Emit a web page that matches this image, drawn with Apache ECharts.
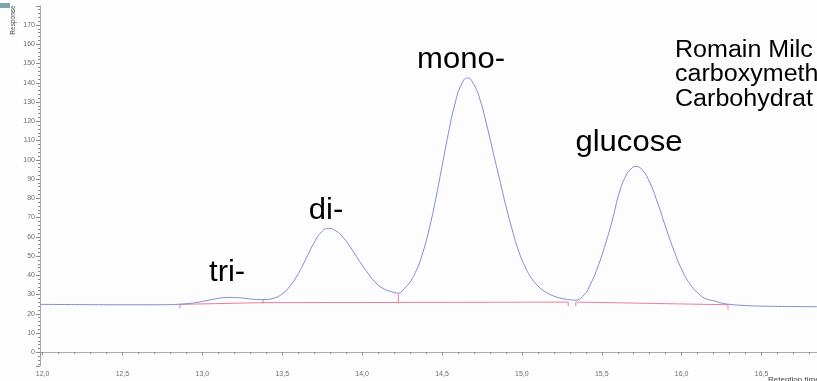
<!DOCTYPE html>
<html>
<head>
<meta charset="utf-8">
<script src="https://cdn.jsdelivr.net/npm/echarts@6/dist/echarts.min.js"></script>
<style>
  html, body { margin: 0; padding: 0; background: #fdfdfd; }
  #chart { width: 817px; height: 381px; }
</style>
</head>
<body>
<div id="chart"></div>
<script>
// Detector trace: retention time (min) and response
const retentionTime = [
  11.984, 12.2, 12.5, 12.7, 12.8, 12.86, 12.92, 12.98, 13.04, 13.10, 13.16, 13.22, 13.28, 13.33, 13.38,
  13.45, 13.50, 13.55, 13.60, 13.65, 13.70, 13.75, 13.79, 13.83, 13.88, 13.93, 13.98, 14.03, 14.08, 14.13, 14.18,
  14.227, 14.26, 14.30, 14.34, 14.38, 14.42, 14.46, 14.50, 14.54, 14.58, 14.62, 14.66,
  14.70, 14.74, 14.78, 14.82, 14.86, 14.90, 14.94, 14.98, 15.02, 15.06, 15.10, 15.15, 15.20, 15.25, 15.30,
  15.33, 15.38, 15.43, 15.48, 15.53, 15.57, 15.61, 15.65, 15.69, 15.715,
  15.75, 15.80, 15.85, 15.90, 15.95, 16.00, 16.05, 16.10, 16.15, 16.20, 16.25, 16.30, 16.40, 16.50, 16.65, 16.847
];
const response = [
  24.9, 24.8, 24.7, 24.7, 24.8, 25.0, 25.4, 26.1, 27.1, 28.0, 28.5, 28.4, 27.9, 27.5, 27.4,
  28.2, 30.4, 34.5, 40.8, 48.8, 57.0, 62.8, 64.4, 63.4, 59.8, 54.2, 47.8, 41.8, 36.6, 33.2, 31.6,
  30.7, 32.8, 36.5, 42.7, 51.8, 64.1, 79.4, 96.5, 113.8, 128.7, 138.9, 142.5,
  139.0, 130.7, 118.0, 104.0, 90.0, 76.0, 63.5, 52.5, 44.5, 38.5, 34.5, 31.2, 29.2, 28.0, 27.3,
  27.1, 29.0, 35.5, 45.5, 58.2, 70.0, 83.0, 91.5, 95.8, 96.5,
  95.1, 88.3, 77.5, 65.0, 53.2, 43.1, 35.7, 30.9, 27.9, 26.8, 25.6, 24.9, 24.3, 24.0, 23.8, 23.7
];

// Integration baseline and peak start/end markers (null breaks the line)
const baselineTime = [
  12.86, 13.38, null,
  13.38, 14.227, null,
  14.227, 15.29, null,
  15.337, 16.29, null,
  12.86, 12.86, null,
  13.38, 13.38, null,
  14.227, 14.227, null,
  15.29, 15.29, null,
  15.337, 15.337, null,
  16.29, 16.29
];
const baselineResp = [
  24.9, 25.8, null,
  25.8, 25.9, null,
  25.9, 26.1, null,
  26.1, 24.7, null,
  24.9, 22.9, null,
  27.6, 25.3, null,
  30.2, 25.4, null,
  26.1, 24.1, null,
  26.1, 24.1, null,
  24.7, 22.3
];

// Peak names and where they sit (time, response)
const peakNames = ['tri-', 'di-', 'mono-', 'glucose'];
const peakLabelTime = [13.155, 13.774, 14.619, 15.670];
const peakLabelResp = [33.9, 66.1, 144.5, 101.4];

const noteLines = ['Romain Milc', 'carboxymeth', 'Carbohydrat'];

const xMin = 11.984, xMax = 16.847, xStep = 0.5;
const yMin = -7, yMax = 180, yStep = 10;

const traceData = retentionTime.map((t, i) => [t, response[i]]);
const baselineData = baselineTime.map((t, i) =>
  (t === null || baselineResp[i] === null) ? [NaN, NaN] : [t, baselineResp[i]]);

const FONT = '"Liberation Sans", Arial, sans-serif';
const axisGray = '#a9a9a9';
const labelGray = '#6e6e6e';

const chart = echarts.init(document.getElementById('chart'), null, { renderer: 'canvas' });

chart.setOption({
  animation: false,
  backgroundColor: '#fdfdfd',
  grid: { left: 40, right: 0, top: 5.75, bottom: 15.2, containLabel: false, outerBoundsMode: 'none' },
  xAxis: {
    type: 'value',
    min: xMin, max: xMax,
    minInterval: xStep, maxInterval: xStep,
    axisLine: { show: true, lineStyle: { color: axisGray, width: 1 } },
    axisTick: { show: true, length: 3, lineStyle: { color: '#8a8a8a' } },
    minorTick: { show: true, splitNumber: 5, length: 2, lineStyle: { color: '#8a8a8a' } },
    splitLine: { show: false },
    axisLabel: {
      show: true, margin: 5, fontSize: 7, color: labelGray, fontFamily: FONT,
      showMinLabel: false, showMaxLabel: false,
      formatter: v => v.toFixed(1).replace('.', ',')
    }
  },
  yAxis: {
    type: 'value',
    min: yMin, max: yMax,
    minInterval: yStep, maxInterval: yStep,
    axisLine: { show: true, lineStyle: { color: axisGray, width: 1 } },
    axisTick: { show: true, length: 4, lineStyle: { color: '#8a8a8a' } },
    minorTick: { show: true, splitNumber: 5, length: 2, lineStyle: { color: '#8a8a8a' } },
    splitLine: { show: false },
    axisLabel: {
      show: true, margin: 5, fontSize: 7, color: labelGray, fontFamily: FONT,
      showMinLabel: false, showMaxLabel: false,
      formatter: v => String(Math.round(v))
    }
  },
  series: [
    {
      name: 'baseline',
      type: 'line',
      data: baselineData,
      symbol: 'none',
      connectNulls: false,
      lineStyle: { color: '#ee7d9c', width: 1 },
      z: 2
    },
    {
      name: 'trace',
      type: 'line',
      data: traceData,
      symbol: 'none',
      smooth: 0.5,
      lineStyle: { color: '#8389d4', width: 1 },
      z: 3
    }
  ]
});

// Peak names, response caption, axis title and the note in the corner
const graphics = [];
peakNames.forEach((name, i) => {
  const p = chart.convertToPixel({ gridIndex: 0 }, [peakLabelTime[i], peakLabelResp[i]]);
  graphics.push({
    type: 'text',
    x: p[0], y: p[1],
    scaleX: 1.07,
    style: {
      text: name, font: '29px ' + FONT, fill: '#000',
      textAlign: 'center', textVerticalAlign: 'bottom'
    },
    z: 10
  });
});
noteLines.forEach((line, i) => {
  graphics.push({
    type: 'text',
    x: 675, y: 62 + i * 24.5,
    scaleX: 1.09,
    style: { text: line, font: '23px ' + FONT, fill: '#000', textAlign: 'left', textVerticalAlign: 'bottom' },
    z: 10
  });
});
graphics.push({
  type: 'text', x: 13, y: 20, rotation: Math.PI / 2,
  style: { text: 'Response', font: '6.5px ' + FONT, fill: '#444', textAlign: 'center', textVerticalAlign: 'middle' },
  z: 10
});
graphics.push({
  type: 'text', x: 768, y: 376,
  style: { text: 'Retention time', font: '8px ' + FONT, fill: '#444', textAlign: 'left', textVerticalAlign: 'top' },
  z: 10
});
graphics.push({
  type: 'rect', shape: { x: 0, y: 3, width: 10, height: 5 },
  style: { fill: '#7ea3a8' }, z: 10
});
chart.setOption({ graphic: graphics });
</script>
</body>
</html>
